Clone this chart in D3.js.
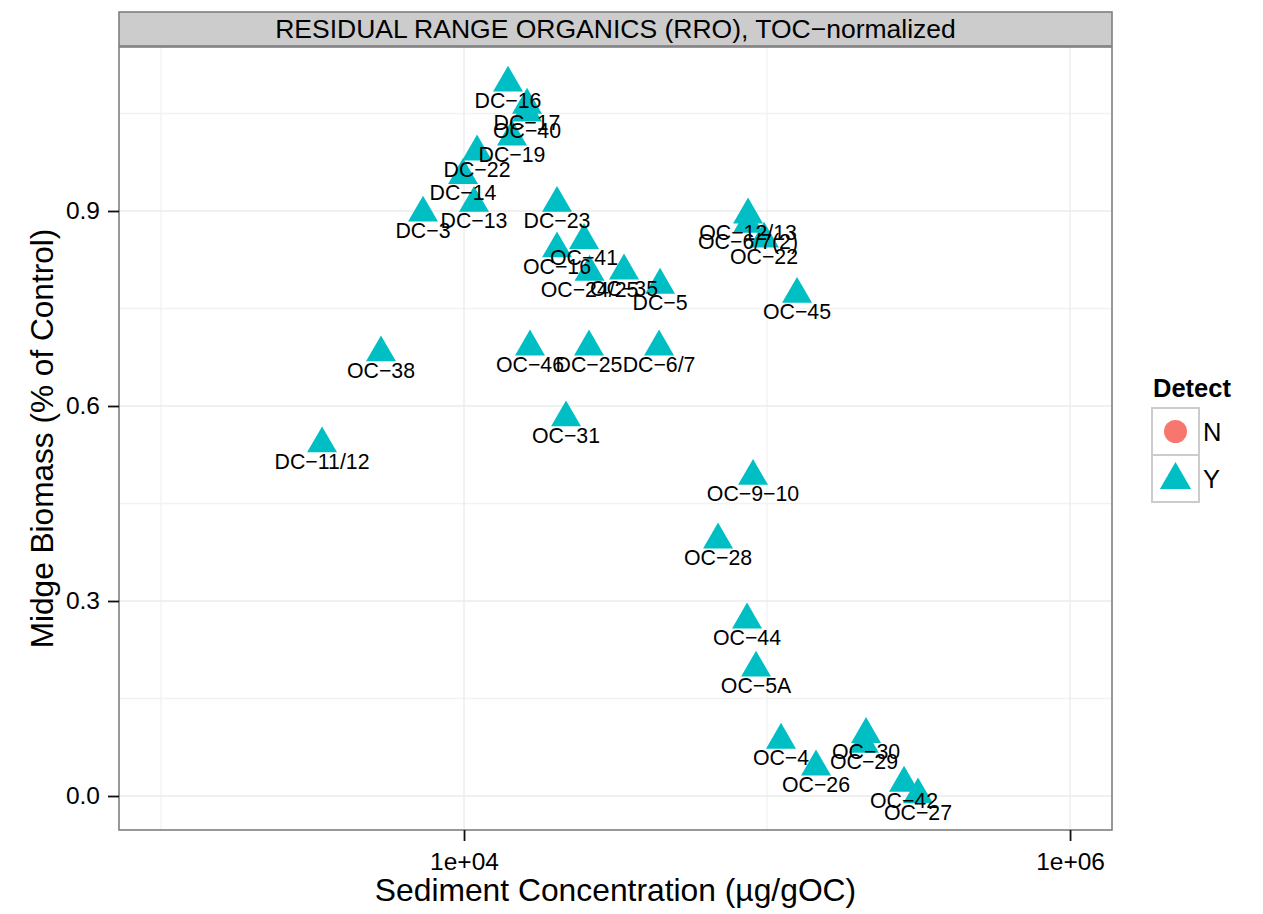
<!DOCTYPE html>
<html>
<head>
<meta charset="utf-8">
<script src="https://cdn.jsdelivr.net/npm/d3@7"></script>
<style>
  html, body { margin: 0; padding: 0; background: #fff; }
  svg { display: block; font-family: "Liberation Sans", Arial, Helvetica, sans-serif; }
</style>
</head>
<body>
<svg id="chart" width="1263" height="914"></svg>
<script>
// Sample stations, sediment RRO concentration (µg/gOC) and midge biomass (fraction of control)
const sampleIds = [
  "DC−16", "DC−17", "OC−40", "DC−19", "DC−22", "DC−14", "DC−13", "DC−3",
  "DC−23", "OC−16", "OC−41", "OC−24/25", "OC−35", "DC−5", "OC−46", "DC−25",
  "DC−6/7", "OC−12/13", "OC−6/7(2)", "OC−22", "OC−45", "OC−38", "DC−11/12", "OC−31",
  "OC−9−10", "OC−28", "OC−44", "OC−5A", "OC−4", "OC−26", "OC−30", "OC−29",
  "OC−42", "OC−27"
];
const sedimentConc = [
  13970, 16140, 16140, 14400, 11040, 9924, 10790, 7323,
  20270, 20270, 24890, 25960, 33730, 44360, 16510, 25850,
  44020, 86560, 86560, 97750, 125600, 5321, 3400, 21710,
  89910, 68920, 85900, 91990, 111200, 145100, 212200, 208900,
  283200, 315000
];
const midgeBiomass = [
  1.097, 1.063, 1.051, 1.014, 0.991, 0.955, 0.912, 0.897,
  0.912, 0.842, 0.855, 0.806, 0.808, 0.786, 0.691, 0.691,
  0.691, 0.894, 0.880, 0.857, 0.772, 0.682, 0.542, 0.582,
  0.492, 0.394, 0.271, 0.197, 0.086, 0.045, 0.095, 0.080,
  0.020, 0.002
];
const detectFlag = sampleIds.map(() => "Y");

// Legend levels
const detectLevels = ["N", "Y"];
const detectColors = ["#F8766D", "#00BFC4"];

// Axis ticks
const xTickValues = [1e4, 1e6];
const xTickLabels = ["1e+04", "1e+06"];
const xMinorValues = [1e3, 1e5];
const yTickValues = [0, 0.3, 0.6, 0.9];
const yTickLabels = ["0.0", "0.3", "0.6", "0.9"];
const yMinorValues = [0.15, 0.45, 0.75, 1.05];

const panelTitle = "RESIDUAL RANGE ORGANICS (RRO), TOC−normalized";
const xTitle = "Sediment Concentration (µg/gOC)";
const yTitle = "Midge Biomass (% of Control)";

// Layout
const panel = { left: 119, right: 1112, top: 47, bottom: 830 };
const strip = { top: 12, bottom: 46 };

const svg = d3.select("#chart");

const x = d3.scaleLog()
  .domain([726.7, 1375500])
  .range([panel.left, panel.right]);
const y = d3.scaleLinear()
  .domain([-0.0523, 1.1523])
  .range([panel.bottom, panel.top]);

const rows = sampleIds.map((id, i) => ({
  id, conc: sedimentConc[i], biomass: midgeBiomass[i], detect: detectFlag[i]
}));

// Panel background
svg.append("rect")
  .attr("x", panel.left).attr("y", panel.top)
  .attr("width", panel.right - panel.left).attr("height", panel.bottom - panel.top)
  .attr("fill", "#fff");

// Grid lines
const grid = svg.append("g");
grid.selectAll("line.xminor").data(xMinorValues).join("line")
  .attr("x1", d => x(d)).attr("x2", d => x(d))
  .attr("y1", panel.top).attr("y2", panel.bottom)
  .attr("stroke", "#F2F2F2").attr("stroke-width", 1.3);
grid.selectAll("line.yminor").data(yMinorValues).join("line")
  .attr("y1", d => y(d)).attr("y2", d => y(d))
  .attr("x1", panel.left).attr("x2", panel.right)
  .attr("stroke", "#F2F2F2").attr("stroke-width", 1.3);
grid.selectAll("line.xmajor").data(xTickValues).join("line")
  .attr("x1", d => x(d)).attr("x2", d => x(d))
  .attr("y1", panel.top).attr("y2", panel.bottom)
  .attr("stroke", "#EBEBEB").attr("stroke-width", 1.3);
grid.selectAll("line.ymajor").data(yTickValues).join("line")
  .attr("y1", d => y(d)).attr("y2", d => y(d))
  .attr("x1", panel.left).attr("x2", panel.right)
  .attr("stroke", "#EBEBEB").attr("stroke-width", 1.3);

// Points
const triangle = d3.symbol().type(d3.symbolTriangle).size(389);
const colorOf = d => detectColors[detectLevels.indexOf(d)];
svg.append("g").selectAll("path").data(rows).join("path")
  .attr("d", triangle)
  .attr("transform", d => `translate(${x(d.conc)},${y(d.biomass)})`)
  .attr("fill", d => colorOf(d.detect));

// Point labels
svg.append("g").selectAll("text").data(rows).join("text")
  .attr("x", d => x(d.conc))
  .attr("y", d => y(d.biomass) + 25)
  .attr("text-anchor", "middle")
  .attr("font-size", 21.3)
  .attr("fill", "#000")
  .text(d => d.id);

// Panel border
svg.append("rect")
  .attr("x", panel.left).attr("y", panel.top)
  .attr("width", panel.right - panel.left).attr("height", panel.bottom - panel.top)
  .attr("fill", "none").attr("stroke", "#7F7F7F").attr("stroke-width", 1.6);

// Facet strip
svg.append("rect")
  .attr("x", panel.left).attr("y", strip.top)
  .attr("width", panel.right - panel.left).attr("height", strip.bottom - strip.top)
  .attr("fill", "#CCCCCC").attr("stroke", "#7F7F7F").attr("stroke-width", 1.6);
svg.append("text")
  .attr("x", (panel.left + panel.right) / 2)
  .attr("y", 38)
  .attr("text-anchor", "middle")
  .attr("font-size", 26.5)
  .attr("fill", "#000")
  .text(panelTitle);

// Axes
const xAxis = d3.axisBottom(x)
  .tickValues(xTickValues)
  .tickFormat((d, i) => xTickLabels[i])
  .tickSize(11).tickPadding(12);
const gx = svg.append("g")
  .attr("transform", `translate(0,${panel.bottom})`)
  .call(xAxis);

const yAxis = d3.axisLeft(y)
  .tickValues(yTickValues)
  .tickFormat((d, i) => yTickLabels[i])
  .tickSize(11).tickPadding(8);
const gy = svg.append("g")
  .attr("transform", `translate(${panel.left},0)`)
  .call(yAxis);

[gx, gy].forEach(g => {
  g.select(".domain").remove();
  g.selectAll(".tick line").attr("stroke", "#111").attr("stroke-width", 1.8);
  g.selectAll(".tick text")
    .attr("font-size", 24.5)
    .attr("font-family", "'Liberation Sans', Arial, sans-serif")
    .attr("fill", "#000");
});

// Axis titles
svg.append("text")
  .attr("x", (panel.left + panel.right) / 2)
  .attr("y", 901)
  .attr("text-anchor", "middle")
  .attr("font-size", 31.8)
  .attr("fill", "#000")
  .text(xTitle);
svg.append("text")
  .attr("transform", `translate(53,${(panel.top + panel.bottom) / 2}) rotate(-90)`)
  .attr("text-anchor", "middle")
  .attr("font-size", 31.6)
  .attr("fill", "#000")
  .text(yTitle);

// Legend
const legend = svg.append("g");
legend.append("text")
  .attr("x", 1153).attr("y", 397)
  .attr("font-size", 25.5).attr("font-weight", "bold")
  .attr("fill", "#000")
  .text("Detect");
const keySize = 47;
const keyTop = 408;
const legendShapes = [
  d3.symbol().type(d3.symbolCircle).size(415),
  d3.symbol().type(d3.symbolTriangle).size(421)
];
detectLevels.forEach((lvl, i) => {
  const ky = keyTop + i * keySize;
  legend.append("rect")
    .attr("x", 1152).attr("y", ky)
    .attr("width", keySize).attr("height", keySize)
    .attr("fill", "#fff").attr("stroke", "#CCCCCC").attr("stroke-width", 2);
  legend.append("path")
    .attr("d", legendShapes[i])
    .attr("transform", `translate(${1152 + keySize / 2},${ky + keySize / 2 + (i === 1 ? 1.5 : 0)})`)
    .attr("fill", detectColors[i]);
  legend.append("text")
    .attr("x", 1203).attr("y", ky + keySize / 2 + 9)
    .attr("font-size", 25.5)
    .attr("fill", "#000")
    .text(lvl);
});
</script>
</body>
</html>
